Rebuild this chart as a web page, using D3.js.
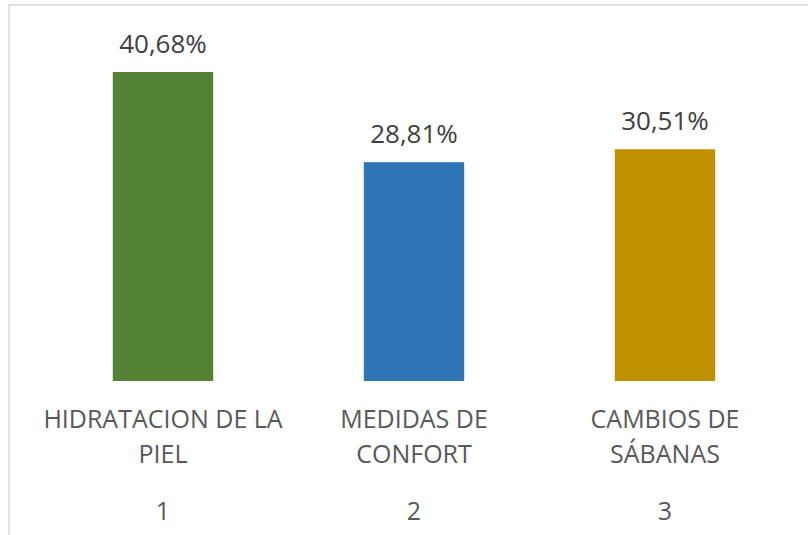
<!DOCTYPE html>
<html>
<head>
<meta charset="utf-8">
<script src="https://cdn.jsdelivr.net/npm/d3@7"></script>
<style>
  body { margin: 0; background: #fff; }
  svg { display: block; font-family: "Open Sans", "Noto Sans", sans-serif; }
</style>
</head>
<body>
<div id="chart"></div>
<script>
// data
const positions = ["1", "2", "3"];
const categories = [["HIDRATACION DE LA", "PIEL"], ["MEDIDAS DE", "CONFORT"], ["CAMBIOS DE", "SÁBANAS"]];
const values = [40.68, 28.81, 30.51];
const colors = ["#548235", "#2E75B6", "#BF9000"];

const width = 808, height = 535;

const svg = d3.select("#chart").append("svg")
    .attr("width", width)
    .attr("height", height);

// chart frame (runs off the right and bottom edge)
svg.append("rect")
    .attr("x", 9).attr("y", 5)
    .attr("width", 900).attr("height", 600)
    .attr("fill", "none")
    .attr("stroke", "#d9d9d9")
    .attr("stroke-width", 1.5);

const x = d3.scaleBand()
    .domain(positions)
    .range([37.5, 790.5])
    .padding(0);

const y = d3.scaleLinear()
    .domain([0, 45])
    .range([381, 39.2]);

const barW = x.bandwidth() * 0.4;

svg.selectAll(".bar")
    .data(values)
    .enter().append("rect")
    .attr("class", "bar")
    .attr("x", (d, i) => x(positions[i]) + (x.bandwidth() - barW) / 2)
    .attr("y", d => y(d))
    .attr("width", barW)
    .attr("height", d => y(0) - y(d))
    .attr("fill", (d, i) => colors[i]);

// value labels
svg.selectAll(".label")
    .data(values)
    .enter().append("text")
    .attr("class", "label")
    .attr("x", (d, i) => x(positions[i]) + x.bandwidth() / 2)
    .attr("y", d => y(d) - 19.5)
    .attr("text-anchor", "middle")
    .style("font-size", "26px")
    .style("fill", "#404040")
    .text(d => d.toFixed(2).replace(".", ",") + "%");

// x axis: number + category name on two lines
const axis = svg.append("g")
    .attr("transform", `translate(0,${y(0)})`)
    .call(d3.axisBottom(x).tickSize(0).tickFormat(""));
axis.select(".domain").remove();

axis.selectAll(".tick text").remove();
axis.selectAll(".tick").each(function(d, i) {
    const t = d3.select(this).append("text")
        .attr("text-anchor", "middle")
        .style("font-size", "25px")
        .style("font-family", "'Open Sans', 'Noto Sans', sans-serif")
        .style("fill", "#595959");
    categories[i].forEach((line, k) => {
        t.append("tspan").attr("x", 0).attr("y", 47 + k * 35).text(line);
    });
    t.append("tspan").attr("x", 0).attr("y", 139).text(d);
});
</script>
</body>
</html>
